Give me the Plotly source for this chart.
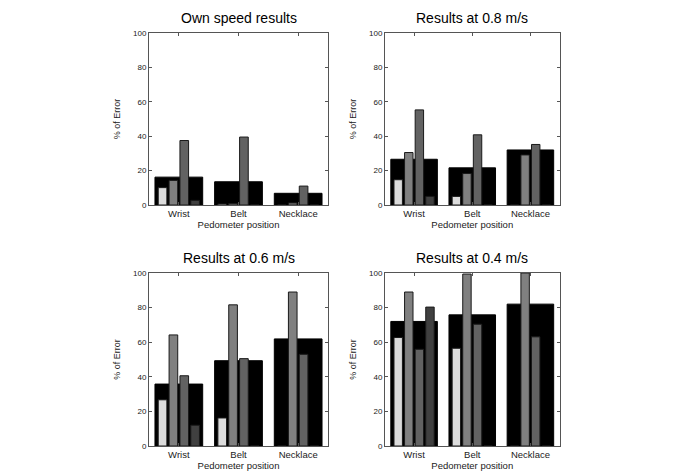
import plotly.graph_objects as go

categories = ["Wrist", "Belt", "Necklace"]
cat_x = [1, 2, 3]
titles = ["Own speed results", "Results at 0.8 m/s", "Results at 0.6 m/s", "Results at 0.4 m/s"]

own_mean = [16.2, 13.5, 6.8]
own_s1 = [10.1, 0.6, 0]
own_s2 = [14.3, 0.8, 1.2]
own_s3 = [37.5, 39.5, 11.0]
own_s4 = [2.7, 0, 0]

v08_mean = [26.6, 21.6, 32.0]
v08_s1 = [14.7, 5.0, 0]
v08_s2 = [30.5, 18.3, 29.1]
v08_s3 = [55.3, 40.8, 35.2]
v08_s4 = [5.0, 0, 0]

v06_mean = [35.8, 49.3, 61.9]
v06_s1 = [26.7, 16.2, 0]
v06_s2 = [64.2, 81.6, 89.0]
v06_s3 = [40.6, 50.5, 53.0]
v06_s4 = [12.0, 0, 0]

v04_mean = [72.0, 75.8, 82.0]
v04_s1 = [62.7, 56.5, 0]
v04_s2 = [89.0, 99.4, 100]
v04_s3 = [55.9, 70.4, 63.1]
v04_s4 = [80.3, 0, 0]

y_ticks = [0, 20, 40, 60, 80, 100]

panels = [
    (own_mean, [own_s1, own_s2, own_s3, own_s4]),
    (v08_mean, [v08_s1, v08_s2, v08_s3, v08_s4]),
    (v06_mean, [v06_s1, v06_s2, v06_s3, v06_s4]),
    (v04_mean, [v04_s1, v04_s2, v04_s3, v04_s4]),
]

series_colors = ["#dcdcdc", "#808080", "#626262", "#404040"]
shifts = [-0.273, -0.091, 0.091, 0.273]
narrow_w = 0.145

W, H = 700, 471
x_doms = [(149 / W, 328 / W), (385 / W, 559.5 / W)]
y_doms = [((H - 205) / H, (H - 33) / H), ((H - 446) / H, (H - 273) / H)]

fig = go.Figure()
annotations = []
font_family = "Liberation Sans, Arial, sans-serif"
txt = "#222222"

for i, (mean_vals, series) in enumerate(panels):
    r, c = divmod(i, 2)
    xa = "x" if i == 0 else f"x{i+1}"
    ya = "y" if i == 0 else f"y{i+1}"
    fig.add_trace(go.Bar(
        x=cat_x, y=mean_vals, width=0.8, offset=-0.4,
        marker=dict(color="black", line=dict(color="black", width=1)),
        xaxis=xa, yaxis=ya, showlegend=False, hoverinfo="y"))
    for k, s in enumerate(series):
        fig.add_trace(go.Bar(
            x=cat_x, y=s, width=narrow_w, offset=shifts[k] - narrow_w / 2,
            marker=dict(color=series_colors[k], line=dict(color="#1a1a1a", width=1)),
            xaxis=xa, yaxis=ya, showlegend=False, hoverinfo="y"))
    xkey = "xaxis" if i == 0 else f"xaxis{i+1}"
    ykey = "yaxis" if i == 0 else f"yaxis{i+1}"
    fig.layout[xkey] = dict(
        domain=list(x_doms[c]), anchor=ya, range=[0.5, 3.5],
        tickvals=cat_x, ticktext=categories, ticks="inside", ticklen=3,
        showline=True, mirror="ticks", linecolor="#555555", linewidth=1,
        tickcolor="#555555", showgrid=False, zeroline=False, automargin=False,
        tickfont=dict(size=9.5, color=txt, family=font_family),
        title=dict(text="Pedometer position", standoff=0,
                   font=dict(size=9.5, color=txt, family=font_family)),
        fixedrange=True)
    fig.layout[ykey] = dict(
        domain=list(y_doms[r]), anchor=xa, range=[0, 100],
        tickvals=y_ticks, ticks="inside", ticklen=3,
        showline=True, mirror="ticks", linecolor="#555555", linewidth=1,
        tickcolor="#555555", showgrid=False, zeroline=False, automargin=False,
        tickfont=dict(size=8, color=txt, family=font_family),
        title=dict(text="% of Error", standoff=10,
                   font=dict(size=9, color=txt, family=font_family)),
        fixedrange=True)
    annotations.append(dict(
        text=titles[i], xref="paper", yref="paper",
        x=(x_doms[c][0] + x_doms[c][1]) / 2, y=y_doms[r][1] + 5 / H,
        xanchor="center", yanchor="bottom", showarrow=False,
        font=dict(size=14, color="black", family=font_family)))

fig.update_layout(
    width=W, height=H, barmode="overlay",
    margin=dict(l=0, r=0, t=0, b=0),
    paper_bgcolor="white", plot_bgcolor="white",
    annotations=annotations,
)

fig.write_html("out.html", config={"displayModeBar": False},
               post_script="document.body.style.margin='0';")
